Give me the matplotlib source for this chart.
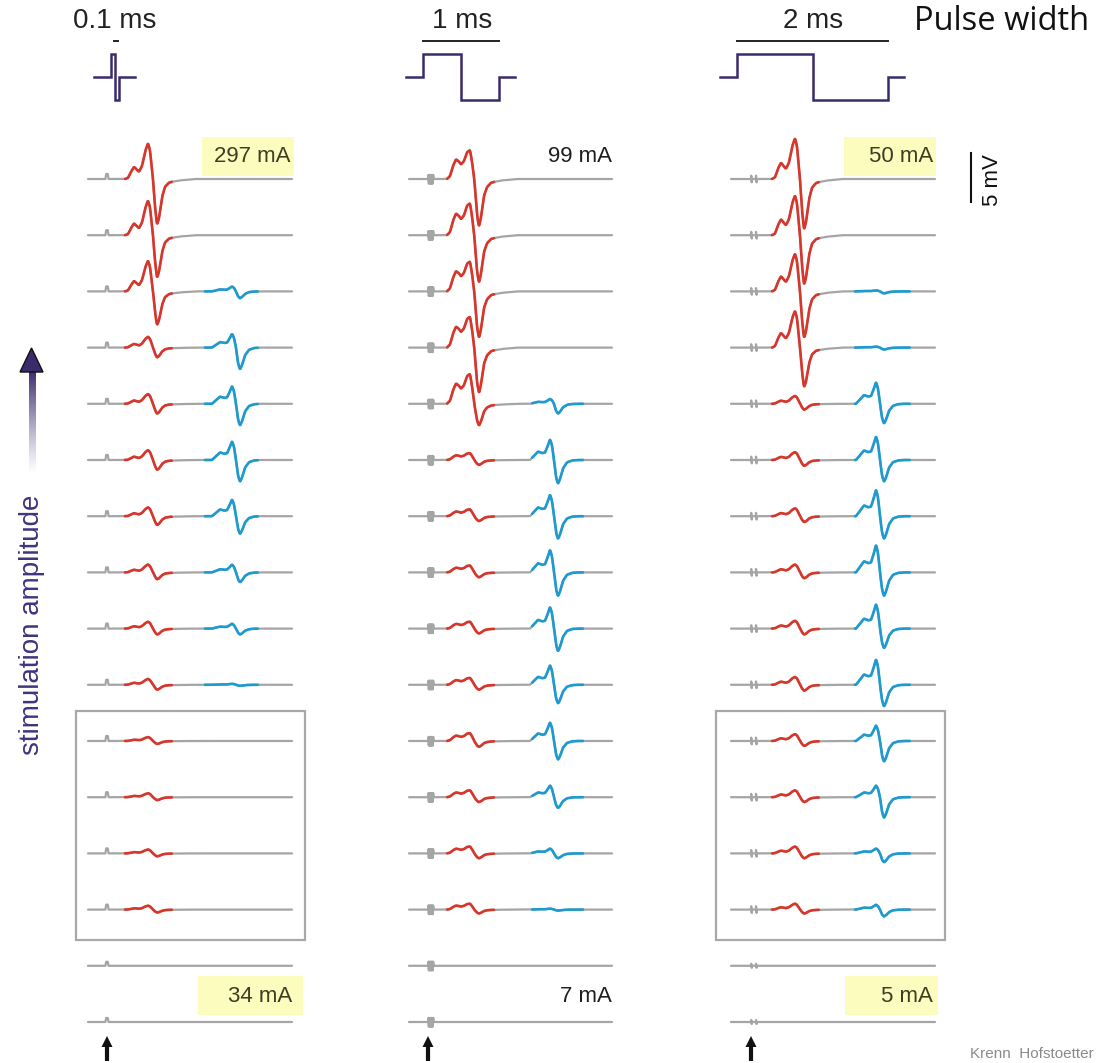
import numpy as np
import matplotlib.pyplot as plt
from matplotlib.patches import Rectangle, Polygon

# ---- data ----
pulse_labels = ['0.1 ms', '1 ms', '2 ms']
pulse_ms = [0.1, 1.0, 2.0]
top_labels = ['297 mA', '99 mA', '50 mA']
bottom_labels = ['34 mA', '7 mA', '5 mA']
highlight = [True, False, True]

# response amplitudes per trace (top = highest stimulation), in screen px (5 mV ~ 49 px)
red_up = [
    [36, 35, 31, 11, 10, 10, 9, 8, 7, 6, 4, 4, 4, 4, 0, 0],
    [29, 32, 30, 31, 30, 7, 7, 7, 7, 7, 8, 7, 7, 6, 0, 0],
    [41, 40, 38, 37, 8, 8, 8, 8, 8, 8, 7, 7, 7, 6, 0, 0],
]
red_down = [
    [46, 43, 34, 10, 10, 10, 9, 7, 6, 5, 3, 3, 3, 3, 0, 0],
    [48, 48, 47, 46, 22, 5, 5, 5, 5, 5, 6, 5, 5, 4, 0, 0],
    [51, 50, 47, 40, 6, 6, 6, 6, 6, 6, 5, 5, 5, 4, 0, 0],
]
blue_up = [
    [0, 0, 5, 14, 18, 19, 17, 8, 5, 1, 0, 0, 0, 0, 0, 0],
    [0, 0, 0, 0, 5, 21, 22, 23, 22, 20, 19, 12, 5, 1, 0, 0],
    [0, 0, 1, 1, 22, 24, 27, 28, 25, 26, 16, 12, 5, 5, 0, 0],
]
blue_down = [
    [0, 0, 7, 22, 22, 22, 18, 10, 6, 1, 0, 0, 0, 0, 0, 0],
    [0, 0, 0, 0, 10, 24, 23, 24, 23, 19, 19, 11, 5, 1, 0, 0],
    [0, 0, 2, 2, 20, 22, 23, 24, 20, 22, 21, 21, 9, 7, 0, 0],
]
art_amp = [
    [5] * 14 + [4, 4],
    [4.5] * 14 + [4.5, 4.5],
    [5] * 14 + [3, 3],
]

# waveform templates (dx in px, normalised value; positive = upward)
red_t = [0, 3, 6, 9, 12, 14, 17, 20, 23, 25, 28, 30, 32, 34, 37, 40, 44, 47, 55, 70]
red_v = [
    [0, .03, .2, .34, .25, .2, .36, .75, 1.0, .8, 0, -.6, -1.0, -.85, -.4, -.17, -.08, -.06, -.03, 0],
    [0, .1, .45, .68, .6, .5, .62, .92, 1.0, .6, -.2, -.75, -1.0, -.8, -.35, -.17, -.08, -.06, -.03, 0],
    [0, .04, .25, .4, .3, .25, .4, .78, 1.0, .8, 0, -.6, -1.0, -.85, -.4, -.17, -.08, -.06, -.03, 0],
]
blue_t = [-20, -16, -12, -8, -5, -2, 0, 2, 4, 6, 8, 10, 13, 17, 22, 28]
blue_v = [0, .2, .4, .33, .35, .7, 1, .7, 0, -.7, -1, -.8, -.35, -.1, -.02, 0]
art_t = [
    [-1.6, -0.8, 0.8, 1.6],
    [-3, -2.6, -2.2, -1.8, -1.4, -1.0, -0.6, -0.2, 0.2, 0.6, 1.0, 1.4, 1.8, 2.2, 2.6],
    [-3, -2.7, -2.3, -2.0, 1.8, 2.1, 2.5, 2.8],
]
art_v = [
    [0, 1, 1, 0],
    [0, 0.9, -1, 0.9, -1, 0.9, -1, 0.9, -1, 0.9, -1, 0.9, -1, 0.9, 0],
    [0, 1, -1, 0, 0, 1, -1, 0],
]

# ---- layout (pixels) ----
W, H = 1098, 1063
row_y = 179 + np.arange(16) * 56.2
col_x0 = [88, 409, 731]
col_x1 = [292, 612, 935]
col_art = [107, 431, 754]
red_start = [125, 447, 772]
red_len = 47
blue_peak = [232, 550, 876]
blue_win = [(-27, 26), (-18, 33), (-21, 34)]
pulse_start = [111, 423, 737]
px_per_ms = 75.5

GRAY = '#a5a5a5'
RED = '#d8362b'
BLUE = '#1d9bd1'
PURPLE = '#3b2b6d'
FONT = ['Liberation Sans', 'DejaVu Sans']

fig = plt.figure(figsize=(W / 100, H / 100), dpi=100)
ax = fig.add_axes([0, 0, 1, 1])
ax.set_xlim(0, W)
ax.set_ylim(H, 0)
ax.axis('off')


def comp(xg, x_ref, t, v, up, down):
    s = np.interp(xg - x_ref, t, v, left=0, right=0)
    return np.where(s > 0, s * up, s * down)


kern = np.hanning(11)
kern /= kern.sum()

for c in range(3):
    xg = np.arange(col_x0[c], col_x1[c] + 0.01, 0.2)
    for r in range(16):
        phys = comp(xg, red_start[c], red_t, red_v[c], red_up[c][r], red_down[c][r])
        phys += comp(xg, blue_peak[c], blue_t, blue_v, blue_up[c][r], blue_down[c][r])
        phys = np.convolve(phys, kern, mode='same')
        art = np.interp(xg - col_art[c], art_t[c], art_v[c], left=0, right=0) * art_amp[c][r]
        y = row_y[r] - phys - art
        ax.plot(xg, y, color=GRAY, lw=1.6, zorder=2, solid_capstyle='round')
        if red_up[c][r] > 0:
            m = (xg >= red_start[c]) & (xg <= red_start[c] + red_len)
            ax.plot(xg[m], y[m], color=RED, lw=1.9, zorder=3, solid_capstyle='round')
        if blue_up[c][r] > 0:
            m = (xg >= blue_peak[c] + blue_win[c][0]) & (xg <= blue_peak[c] + blue_win[c][1])
            ax.plot(xg[m], y[m], color=BLUE, lw=1.9, zorder=3, solid_capstyle='round')

# grey boxes around low-amplitude rows
for bx in [76, 716]:
    ax.add_patch(Rectangle((bx, 711), 229, 229, fill=False, ec='#a9a9a9', lw=1.6, zorder=1))

# pulse icons and width bars
for c in range(3):
    w = pulse_ms[c] * px_per_ms
    x0 = pulse_start[c]
    px = [x0 - 17, x0, x0, x0 + w / 2, x0 + w / 2, x0 + w, x0 + w, x0 + w + 16]
    py = [77, 77, 54, 54, 100, 100, 77, 77]
    ax.plot(px, py, color=PURPLE, lw=1.8, solid_joinstyle='miter')
    if c == 0:
        ax.plot([x0 + 3, x0 + 7], [41, 41], color='#222222', lw=1.4)
    else:
        ax.plot([x0, x0 + w], [41, 41], color='#222222', lw=1.4)
    ax.text(x0 + w / 2 + (1 if c else 0), 21, pulse_labels[c], ha='center', va='center',
            fontsize=20, family=FONT, color='#222222')

ax.text(914, 22, 'Pulse width', ha='left', va='center', fontsize=23.5,
        family=['Open Sans', 'DejaVu Sans'], color='#111111')

# amplitude labels
top_right = [291, 612, 933]
bot_right = [292, 612, 933]
for c in range(3):
    if highlight[c]:
        ax.add_patch(Rectangle((top_right[c] - 89, 137), 92, 39, fc='#fcfcbf', ec='none', zorder=1))
        ax.add_patch(Rectangle((bot_right[c] - 94 + (6 if c == 2 else 0), 976), 105 - (12 if c == 2 else 0), 39,
                               fc='#fcfcbf', ec='none', zorder=1))
        tc = '#3d3d24'
    else:
        tc = '#1e1e1e'
    ax.text(top_right[c], 157, top_labels[c], ha='right', va='center', fontsize=16, family=FONT, color=tc, zorder=4)
    ax.text(bot_right[c], 996, bottom_labels[c], ha='right', va='center', fontsize=16, family=FONT, color=tc, zorder=4)

# 5 mV scale bar
ax.plot([971, 971], [153, 202], color='#111111', lw=1.5)
ax.text(993, 180, '5 mV', rotation=90, ha='center', va='center', fontsize=16, family=FONT, color='#111111')

# stimulation amplitude arrow with fading shaft
grad = np.ones((100, 1, 4))
grad[:, 0, 0] = 0x3b / 255
grad[:, 0, 1] = 0x2b / 255
grad[:, 0, 2] = 0x6d / 255
grad[:, 0, 3] = np.linspace(1, 0, 100) ** 1.2
ax.imshow(grad, extent=[28.5, 35.5, 475, 370], aspect='auto', interpolation='bilinear', zorder=2)
ax.add_patch(Polygon([[20, 372], [43, 372], [31.5, 348]], closed=True, fc=PURPLE, ec='#111111', lw=1.0, zorder=3))
ax.text(32, 625, 'stimulation amplitude', rotation=90, ha='center', va='center', fontsize=20,
        family=FONT, color='#41337c')

# stimulus arrows under each column
for x in [107, 428, 751]:
    ax.plot([x, x], [1046, 1061], color='#111111', lw=3, solid_capstyle='butt')
    ax.add_patch(Polygon([[x - 5.5, 1047], [x + 5.5, 1047], [x, 1036]], closed=True, fc='#111111', ec='none'))

# caption at the bottom edge
ax.text(1094, 1061, 'Krenn  Hofstoetter', ha='right', va='bottom', fontsize=11, family=FONT, color='#8a8a8a')

ax.set_xlim(0, W)
ax.set_ylim(H, 0)
fig.savefig('out.png', dpi=100)
